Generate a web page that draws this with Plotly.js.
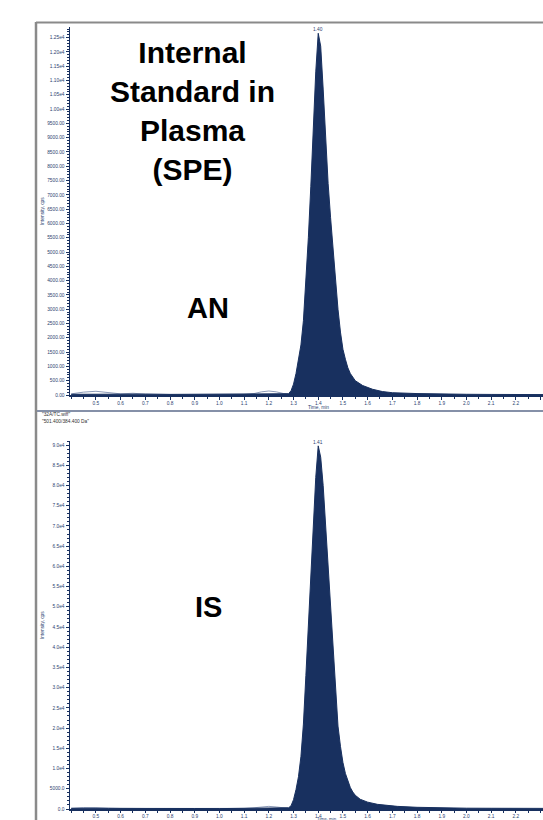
<!DOCTYPE html>
<html>
<head>
<meta charset="utf-8">
<script src="https://cdn.plot.ly/plotly-3.0.1.min.js"></script>
<style>html,body{margin:0;padding:0;background:#fff;}#chart{width:543px;height:820px;}</style>
</head>
<body>
<div id="chart"></div>
<script>
// ---- AN (top panel) main XIC, time (min) / intensity (cps)
const timeAN = [0.40,0.45,0.50,0.55,0.60,0.70,0.80,0.90,1.00,1.10,1.15,1.20,1.25,1.27,1.28,1.29,1.30,1.31,1.32,1.33,1.34,1.35,1.36,1.37,1.38,1.39,1.40,1.41,1.42,1.43,1.44,1.45,1.46,1.47,1.48,1.49,1.50,1.51,1.52,1.53,1.55,1.58,1.62,1.66,1.70,1.80,1.90,2.00,2.10,2.20,2.31];
const intensityAN = [25,30,35,30,25,30,20,25,20,25,20,25,20,25,45,150,380,750,1200,1750,2600,4000,5500,7300,9300,11300,12650,12200,10700,8900,7400,6200,5100,3950,3000,2200,1600,1250,950,750,500,330,200,120,80,50,30,25,20,20,15];
// AN secondary trace (thin overlay)
const timeAN2 = [0.40,0.45,0.50,0.55,0.60,0.65,0.70,0.80,0.90,1.00,1.10,1.14,1.17,1.20,1.23,1.26,1.28];
const intensityAN2 = [40,100,130,90,40,60,30,20,25,20,20,50,110,140,110,50,20];

// ---- IS (bottom panel)
const timeIS = [0.40,0.45,0.50,0.55,0.60,0.70,0.80,0.90,1.00,1.10,1.15,1.20,1.25,1.27,1.28,1.29,1.30,1.31,1.32,1.33,1.34,1.35,1.36,1.37,1.38,1.39,1.40,1.41,1.42,1.43,1.44,1.45,1.46,1.47,1.48,1.49,1.50,1.51,1.52,1.53,1.54,1.55,1.57,1.60,1.64,1.68,1.72,1.80,1.90,2.00,2.10,2.20,2.31];
const intensityIS = [150,250,200,150,120,120,100,120,100,120,100,150,120,150,300,800,2300,4800,8000,13000,21000,33000,46000,56000,71000,82000,89800,87000,80000,70000,59000,48000,38000,28500,20500,15500,11500,8800,6800,5300,4200,3400,2400,1700,1150,850,650,420,260,200,180,160,150];
const timeIS2 = [0.40,0.45,0.50,0.55,0.60,0.70,0.80,0.90,1.00,1.10,1.14,1.17,1.20,1.23,1.26,1.28];
const intensityIS2 = [200,350,300,200,150,120,100,120,100,150,300,550,650,500,250,150];

// ---- tick labels
const xTickVals = [0.5,0.6,0.7,0.8,0.9,1.0,1.1,1.2,1.3,1.4,1.5,1.6,1.7,1.8,1.9,2.0,2.1,2.2,2.3];
const xTickText = ["0.5","0.6","0.7","0.8","0.9","1.0","1.1","1.2","1.3","1.4","1.5","1.6","1.7","1.8","1.9","2.0","2.1","2.2","2.3"];
const yTickValsAN = [0,500,1000,1500,2000,2500,3000,3500,4000,4500,5000,5500,6000,6500,7000,7500,8000,8500,9000,9500,10000,10500,11000,11500,12000,12500];
const yTickTextAN = ["0.00","500.00","1000.00","1500.00","2000.00","2500.00","3000.00","3500.00","4000.00","4500.00","5000.00","5500.00","6000.00","6500.00","7000.00","7500.00","8000.00","8500.00","9000.00","9500.00","1.00e4","1.05e4","1.10e4","1.15e4","1.20e4","1.25e4"];
const yTickValsIS = [0,5000,10000,15000,20000,25000,30000,35000,40000,45000,50000,55000,60000,65000,70000,75000,80000,85000,90000];
const yTickTextIS = ["0.0","5000.0","1.0e4","1.5e4","2.0e4","2.5e4","3.0e4","3.5e4","4.0e4","4.5e4","5.0e4","5.5e4","6.0e4","6.5e4","7.0e4","7.5e4","8.0e4","8.5e4","9.0e4"];
const peakLabelAN = "1.40", peakTimeAN = 1.40, peakIntAN = 12650;
const peakLabelIS = "1.41", peakTimeIS = 1.40, peakIntIS = 89800;

const NAVY = "#18305f";
const TICKCOL = "#2c4270";
const W = 543, H = 820;
const px = x => x / W;
const py = y => 1 - y / H;
const SMALL = 4.8;

const traces = [
  {x: timeAN2, y: intensityAN2, xaxis: "x", yaxis: "y", type: "scatter", mode: "lines",
   line: {color: "#6d7fa3", width: 0.8}, hoverinfo: "skip"},
  {x: timeAN, y: intensityAN, xaxis: "x", yaxis: "y", type: "scatter", mode: "lines",
   fill: "tozeroy", fillcolor: NAVY, line: {color: NAVY, width: 1}},
  {x: timeIS2, y: intensityIS2, xaxis: "x2", yaxis: "y2", type: "scatter", mode: "lines",
   line: {color: "#6d7fa3", width: 0.8}, hoverinfo: "skip"},
  {x: timeIS, y: intensityIS, xaxis: "x2", yaxis: "y2", type: "scatter", mode: "lines",
   fill: "tozeroy", fillcolor: NAVY, line: {color: NAVY, width: 1}}
];

const xCommon = {
  range: [0.395, 2.31], tickmode: "array", tickvals: xTickVals, ticktext: xTickText,
  showline: true, linecolor: NAVY, linewidth: 1.5, ticks: "outside", ticklen: 3,
  tickcolor: NAVY, tickfont: {size: SMALL, color: TICKCOL, family: "Liberation Sans, Arial"},
  showgrid: false, zeroline: false, fixedrange: true,
  minor: {dtick: 0.05, ticks: "outside", ticklen: 2, tickcolor: NAVY, showgrid: false}
};
const yCommon = {
  showline: true, linecolor: NAVY, linewidth: 1.5, ticks: "outside", ticklen: 3,
  tickcolor: NAVY, tickfont: {size: SMALL, color: TICKCOL, family: "Liberation Sans, Arial"},
  showgrid: false, zeroline: false, fixedrange: true, tickmode: "array"
};

const bigFont = {family: "Liberation Sans, Arial", size: 30, color: "#000"};
const tinyFont = {family: "Liberation Sans, Arial", size: SMALL, color: TICKCOL};

const layout = {
  width: W, height: H,
  margin: {l: 0, r: 0, t: 0, b: 0},
  paper_bgcolor: "#fff", plot_bgcolor: "#fff",
  showlegend: false,
  xaxis: Object.assign({}, xCommon, {domain: [px(70), 1], anchor: "y"}),
  yaxis: Object.assign({}, yCommon, {domain: [py(395), py(27)], anchor: "x",
    range: [0, 12870], tickvals: yTickValsAN, ticktext: yTickTextAN,
    minor: {dtick: 100, ticks: "outside", ticklen: 2, tickcolor: NAVY, showgrid: false}}),
  xaxis2: Object.assign({}, xCommon, {domain: [px(70), 1], anchor: "y2", ticklen: 2}),
  yaxis2: Object.assign({}, yCommon, {domain: [py(809), py(441)], anchor: "x2",
    range: [0, 91000], tickvals: yTickValsIS, ticktext: yTickTextIS,
    minor: {dtick: 1000, ticks: "outside", ticklen: 2, tickcolor: NAVY, showgrid: false}}),
  shapes: [
    {type: "line", xref: "paper", yref: "paper", x0: px(36), x1: px(36), y0: 0, y1: py(22), line: {color: "#8a8a8a", width: 2.5}},
    {type: "line", xref: "paper", yref: "paper", x0: px(36), x1: 1, y0: py(22.5), y1: py(22.5), line: {color: "#8a8a8a", width: 2}},
    {type: "line", xref: "paper", yref: "paper", x0: px(37), x1: 1, y0: py(411), y1: py(411), line: {color: "#8590a8", width: 2}}
  ],
  annotations: [
    {xref: "paper", yref: "paper", x: px(192), y: py(111), text: "<b>Internal<br>Standard in<br>Plasma<br>(SPE)</b>",
     showarrow: false, font: bigFont, align: "center", xanchor: "center", yanchor: "middle"},
    {xref: "paper", yref: "paper", x: px(208), y: py(308), text: "<b>AN</b>", showarrow: false,
     font: {family: "Liberation Sans, Arial", size: 29, color: "#000"}, xanchor: "center", yanchor: "middle"},
    {xref: "paper", yref: "paper", x: px(208), y: py(607), text: "<b>IS</b>", showarrow: false,
     font: {family: "Liberation Sans, Arial", size: 29, color: "#000"}, xanchor: "center", yanchor: "middle"},
    {xref: "x", yref: "y", x: peakTimeAN, y: peakIntAN, text: peakLabelAN, showarrow: false,
     font: tinyFont, yanchor: "bottom", yshift: -1},
    {xref: "x2", yref: "y2", x: peakTimeIS, y: peakIntIS, text: peakLabelIS, showarrow: false,
     font: tinyFont, yanchor: "bottom", yshift: -1},
    {xref: "paper", yref: "paper", x: px(42), y: py(211), text: "Intensity, cps", textangle: -90,
     showarrow: false, font: tinyFont, xanchor: "center", yanchor: "middle"},
    {xref: "paper", yref: "paper", x: px(42), y: py(625), text: "Intensity, cps", textangle: -90,
     showarrow: false, font: tinyFont, xanchor: "center", yanchor: "middle"},
    {xref: "paper", yref: "paper", x: px(318), y: py(407.5), text: "Time, min",
     showarrow: false, font: tinyFont, xanchor: "center", yanchor: "middle"},
    {xref: "paper", yref: "paper", x: px(327), y: 0, text: "Time, min",
     showarrow: false, font: {family: "Liberation Sans, Arial", size: 4.4, color: TICKCOL}, xanchor: "center", yanchor: "bottom", yshift: -3},
    {xref: "paper", yref: "paper", x: px(40), y: py(414), text: "\"32A/TC.wiff\"",
     showarrow: false, font: {family: "Liberation Sans, Arial", size: SMALL, color: "#333"}, xanchor: "left", yanchor: "middle"},
    {xref: "paper", yref: "paper", x: px(40), y: py(421), text: "\"501.400/384.400 Da\"",
     showarrow: false, font: {family: "Liberation Sans, Arial", size: SMALL, color: "#333"}, xanchor: "left", yanchor: "middle"}
  ]
};

Plotly.newPlot("chart", traces, layout, {staticPlot: true, displayModeBar: false});
</script>
</body>
</html>
